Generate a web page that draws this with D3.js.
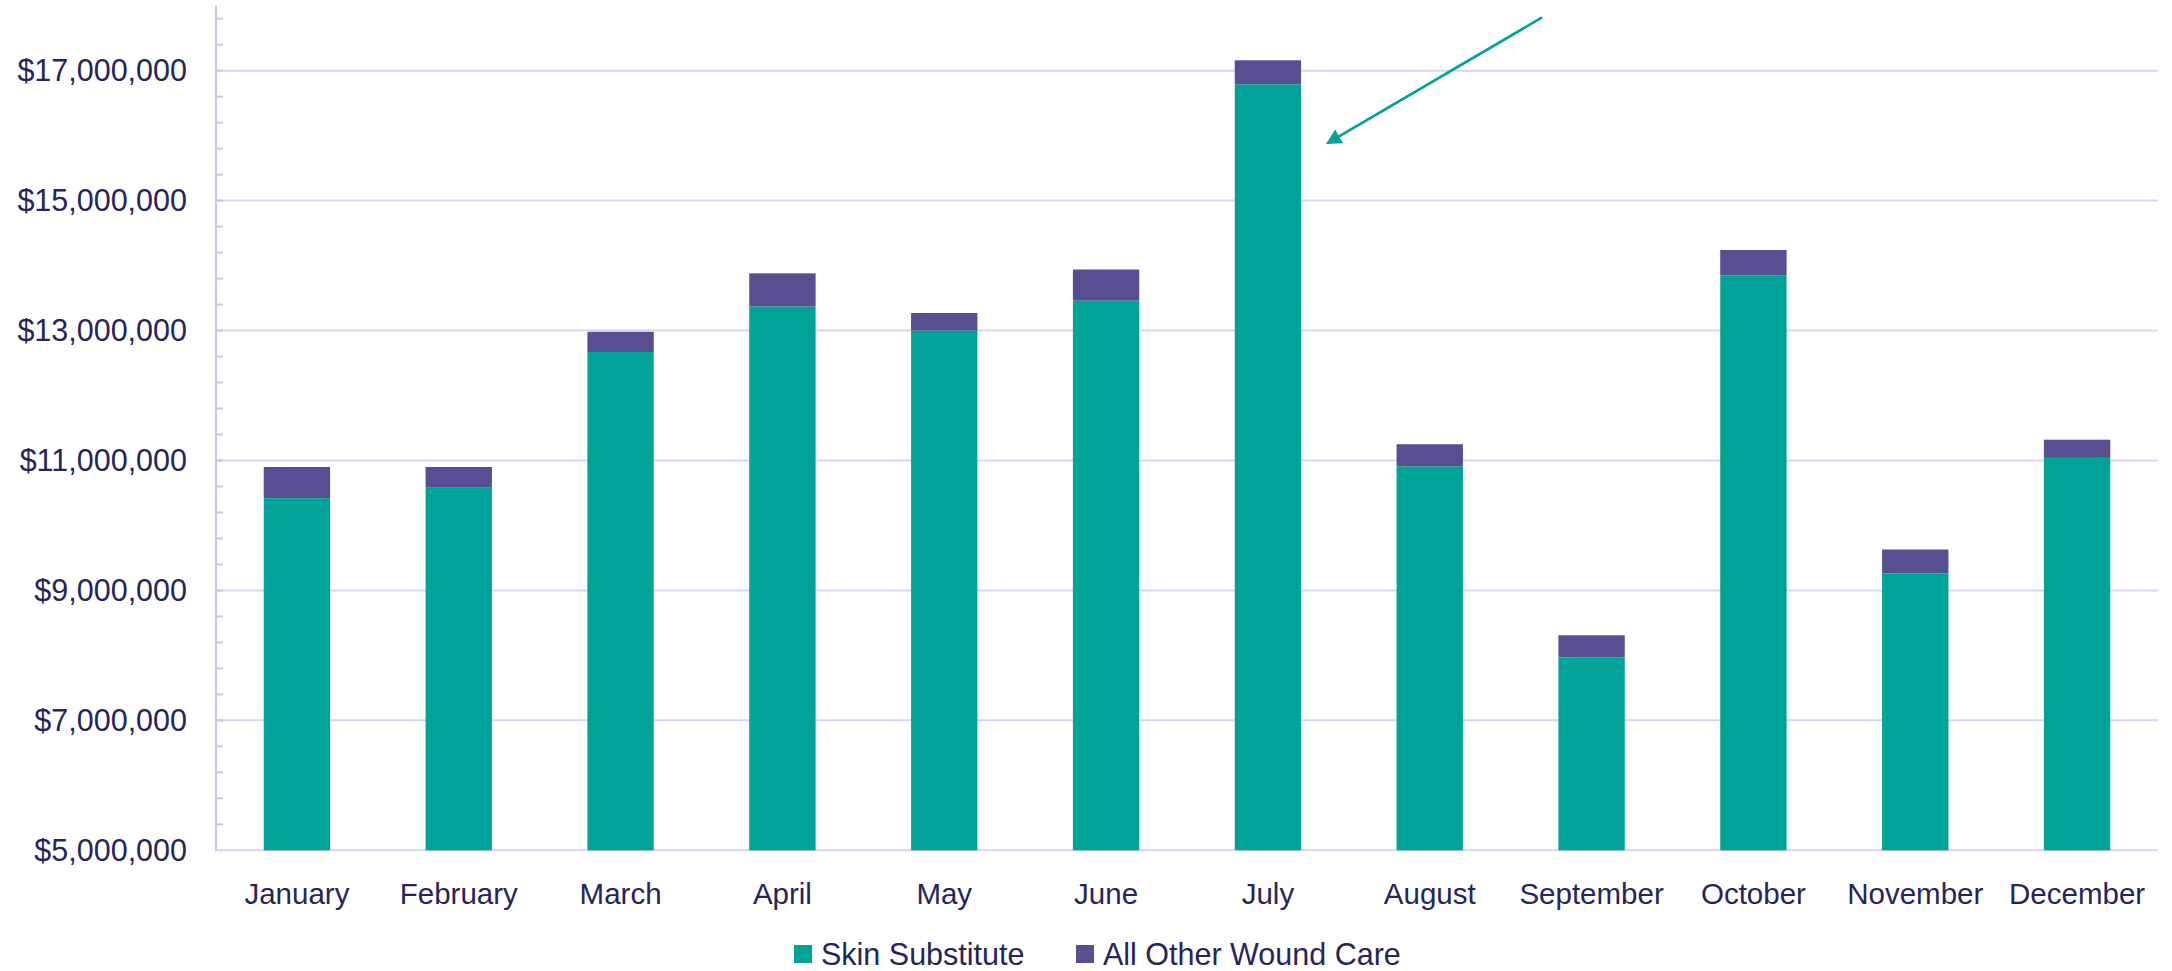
<!DOCTYPE html>
<html>
<head>
<meta charset="utf-8">
<script src="https://d3js.org/d3.v7.min.js"></script>
<style>
  html, body { margin: 0; padding: 0; background: #fff; }
  svg { display: block; }
  text { font-family: "Liberation Sans", Arial, sans-serif; fill: #27245c; }
</style>
</head>
<body>
<div class="chart"></div>
<script>
// Monthly wound care spend
const months = ['January', 'February', 'March', 'April', 'May', 'June',
                'July', 'August', 'September', 'October', 'November', 'December'];
const skinSubstitute = [10420000, 10590000, 12670000, 13370000, 13000000, 13460000,
                        16790000, 10910000, 7970000, 13850000, 9260000, 11040000];
const otherWoundCare = [480000, 310000, 310000, 510000, 270000, 480000,
                        370000, 340000, 340000, 390000, 370000, 280000];
const seriesNames = ['Skin Substitute', 'All Other Wound Care'];
const yTicks = [5000000, 7000000, 9000000, 11000000, 13000000, 15000000, 17000000];
// annotation arrow pointing at July (value coords)
const arrowFrom = { month: 'July', offset: 241, value: 17820000 };
const arrowTo = { month: 'July', offset: 26, value: 15880000 };

const colors = ['#00a398', '#574f91'];

document.addEventListener('DOMContentLoaded', function() {
    createChart('.chart');
});

function createChart(sel) {
    const width = 2172;
    const height = 971;
    const margin = { top: 5.7, right: 14, bottom: 120.7, left: 216 };

    const svg = d3.select(sel)
        .append('svg')
        .attr('width', width)
        .attr('height', height);

    const x = d3.scaleBand()
        .domain(months)
        .range([margin.left, width - margin.right])
        .paddingInner(0.59)
        .paddingOuter(0.295);

    const y = d3.scaleLinear()
        .domain([5000000, 18000000])
        .range([height - margin.bottom, margin.top]);

    const fmt = d3.format('$,');

    // gridlines
    svg.append('g')
        .selectAll('line')
        .data(yTicks)
        .enter().append('line')
        .attr('x1', margin.left)
        .attr('x2', width - margin.right)
        .attr('y1', d => y(d))
        .attr('y2', d => y(d))
        .attr('stroke', '#d9d5f0')
        .attr('stroke-width', 2);

    // minor ticks every 400k
    const minor = d3.range(5400000, 18000001, 400000);
    svg.append('g')
        .selectAll('line')
        .data(minor)
        .enter().append('line')
        .attr('x1', margin.left)
        .attr('x2', margin.left + 7)
        .attr('y1', d => y(d))
        .attr('y2', d => y(d))
        .attr('stroke', '#c9c5ee')
        .attr('stroke-width', 2);

    // stacked bars
    const data = months.map((m, i) => ({ month: m, skin: skinSubstitute[i], other: otherWoundCare[i] }));
    const stacked = d3.stack().keys(['skin', 'other'])(data);

    svg.append('g')
        .selectAll('g')
        .data(stacked)
        .enter().append('g')
        .attr('fill', (d, i) => colors[i])
        .selectAll('rect')
        .data(d => d)
        .enter().append('rect')
        .attr('x', d => x(d.data.month))
        .attr('width', x.bandwidth())
        .attr('y', d => y(d[1]))
        .attr('height', d => y(Math.max(d[0], 5000000)) - y(d[1]));

    // y axis line
    svg.append('line')
        .attr('x1', margin.left)
        .attr('x2', margin.left)
        .attr('y1', margin.top)
        .attr('y2', y(5000000) + 1)
        .attr('stroke', '#c9c5ee')
        .attr('stroke-width', 2);

    // y tick labels
    svg.append('g')
        .selectAll('text')
        .data(yTicks)
        .enter().append('text')
        .attr('x', margin.left - 29)
        .attr('y', d => y(d))
        .attr('dy', '0.35em')
        .attr('text-anchor', 'end')
        .style('font-size', '30.5px')
        .text(d => fmt(d));

    // x labels
    svg.append('g')
        .selectAll('text')
        .data(months)
        .enter().append('text')
        .attr('x', d => x(d) + x.bandwidth() / 2)
        .attr('y', 904)
        .attr('text-anchor', 'middle')
        .style('font-size', '29.5px')
        .text(d => d);

    // legend
    const legendX = [794, 1076];
    const legend = svg.append('g');
    seriesNames.forEach(function(name, i) {
        legend.append('rect')
            .attr('x', legendX[i])
            .attr('y', 945)
            .attr('width', 18)
            .attr('height', 18)
            .attr('fill', colors[i]);
        legend.append('text')
            .attr('x', legendX[i] + 27)
            .attr('y', 965)
            .style('font-size', '30.5px')
            .text(name);
    });

    // annotation arrow
    svg.append('defs').append('marker')
        .attr('id', 'head')
        .attr('viewBox', '0 0 15 16')
        .attr('refX', 14)
        .attr('refY', 8)
        .attr('markerWidth', 15)
        .attr('markerHeight', 16)
        .attr('orient', 'auto')
        .attr('markerUnits', 'userSpaceOnUse')
        .append('path')
        .attr('d', 'M0,0 L15,8 L0,16 Z')
        .attr('fill', colors[0]);

    svg.append('line')
        .attr('x1', x(arrowFrom.month) + x.bandwidth() + arrowFrom.offset)
        .attr('y1', y(arrowFrom.value))
        .attr('x2', x(arrowTo.month) + x.bandwidth() + arrowTo.offset)
        .attr('y2', y(arrowTo.value))
        .attr('stroke', colors[0])
        .attr('stroke-width', 2.7)
        .attr('marker-end', 'url(#head)');
}
</script>
</body>
</html>
